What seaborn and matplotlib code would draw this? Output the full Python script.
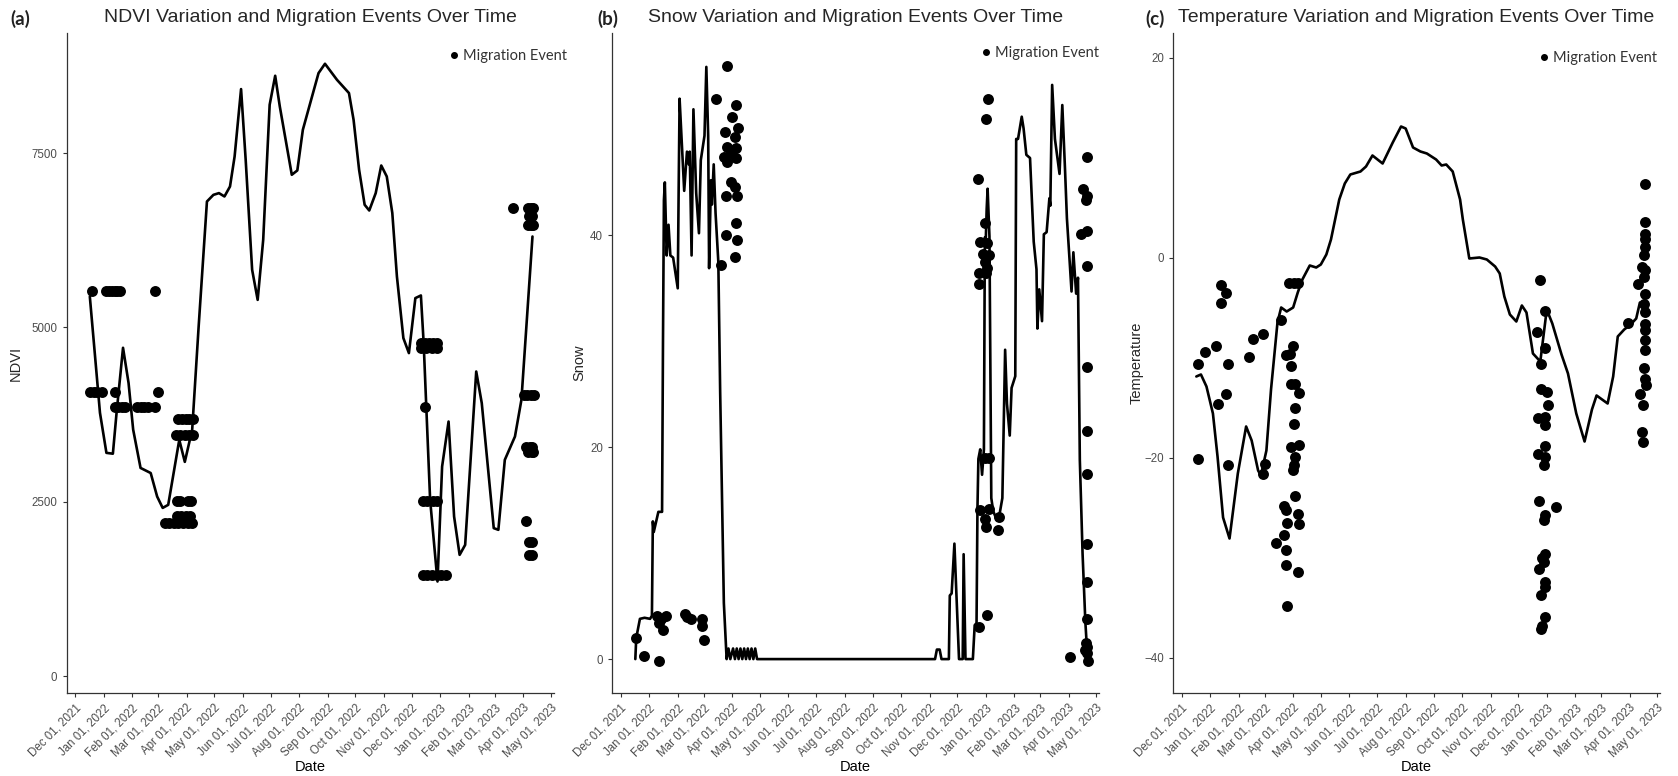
import numpy as np
import pandas as pd
import matplotlib
matplotlib.use("Agg")
import matplotlib.pyplot as plt
import matplotlib.dates as mdates
from matplotlib.lines import Line2D
import seaborn as sns

# ---- NDVI line ----
ndvi_dates = ["2021-12-17", "2021-12-23", "2021-12-28", "2022-01-04", "2022-01-11", "2022-01-15",
              "2022-01-22", "2022-01-28", "2022-02-02", "2022-02-10", "2022-02-21", "2022-02-28",
              "2022-03-06", "2022-03-12", "2022-03-24", "2022-03-30", "2022-04-07", "2022-04-14",
              "2022-04-23", "2022-04-30", "2022-05-06", "2022-05-12", "2022-05-18", "2022-05-23",
              "2022-05-30", "2022-06-04", "2022-06-11", "2022-06-17", "2022-06-23", "2022-06-30",
              "2022-07-06", "2022-07-11", "2022-07-24", "2022-07-30", "2022-08-05", "2022-08-11",
              "2022-08-22", "2022-08-29", "2022-09-11", "2022-09-24", "2022-09-29", "2022-10-05",
              "2022-10-11", "2022-10-16", "2022-10-23", "2022-10-29", "2022-11-04", "2022-11-10",
              "2022-11-15", "2022-11-22", "2022-11-28", "2022-12-05", "2022-12-11", "2022-12-14",
              "2022-12-21", "2022-12-29", "2023-01-03", "2023-01-10", "2023-01-16", "2023-01-22",
              "2023-01-28", "2023-02-09", "2023-02-15", "2023-02-28", "2023-03-05", "2023-03-12",
              "2023-03-23", "2023-03-30", "2023-04-11"]
ndvi_values = [5443, 4536, 3776, 3202, 3190, 3776,
               4708, 4204, 3535, 2986, 2913, 2576,
               2413, 2457, 3389, 3073, 3535, 5013,
               6805, 6900, 6925, 6877, 7020, 7450,
               8416, 7403, 5826, 5395, 6256, 8191,
               8607, 8167, 7188, 7250, 7833, 8120,
               8645, 8779, 8549, 8359, 7976, 7259,
               6758, 6676, 6925, 7321, 7163, 6640,
               5730, 4847, 4632, 5420, 5458, 4775,
               2529, 1358, 3006, 3651, 2289, 1740,
               1883, 4368, 3915, 2123, 2099, 3102,
               3436, 3962, 6303]

# ---- NDVI migration events ----
ndvi_event_dates = ["2021-12-19", "2022-01-04", "2022-01-07", "2022-01-10", "2022-01-13", "2022-01-16", "2022-01-19", "2022-02-26",
                    "2021-12-17", "2021-12-21", "2021-12-25", "2021-12-30", "2022-01-13", "2022-03-01",
                    "2022-01-13", "2022-01-17", "2022-01-21", "2022-01-24", "2022-02-06", "2022-02-10", "2022-02-14", "2022-02-18", "2022-02-26",
                    "2022-03-23", "2022-03-27", "2022-03-31", "2022-04-04", "2022-04-08",
                    "2022-03-20", "2022-03-25", "2022-03-30", "2022-04-04", "2022-04-08",
                    "2022-03-22", "2022-03-25", "2022-04-03", "2022-04-06",
                    "2022-03-21", "2022-03-26", "2022-03-31", "2022-04-05",
                    "2022-03-08", "2022-03-13", "2022-03-18", "2022-03-23", "2022-03-28", "2022-04-02", "2022-04-07",
                    "2022-12-11", "2022-12-15", "2022-12-20", "2022-12-24", "2022-12-29",
                    "2022-12-11", "2022-12-17", "2022-12-23", "2022-12-29",
                    "2022-12-15",
                    "2022-12-13", "2022-12-18", "2022-12-24", "2022-12-29",
                    "2022-12-13", "2022-12-18", "2022-12-23", "2022-12-28", "2023-01-02", "2023-01-07",
                    "2023-03-21", "2023-04-06", "2023-04-09", "2023-04-12",
                    "2023-04-07", "2023-04-11",
                    "2023-04-06", "2023-04-09", "2023-04-12",
                    "2023-04-02", "2023-04-05", "2023-04-09", "2023-04-13",
                    "2023-04-04", "2023-04-08", "2023-04-11",
                    "2023-04-06", "2023-04-10", "2023-04-12",
                    "2023-04-04",
                    "2023-04-07", "2023-04-10",
                    "2023-04-07", "2023-04-10"]
ndvi_event_values = [5520] * 8 + [4080] * 6 + [3860] * 9 + [3690] * 5 + [3460] * 5 + [2505] * 4 + [2290] * 4 + [2200] * 7 \
    + [4780] * 5 + [4700] * 4 + [3860] + [2505] * 4 + [1450] * 6 \
    + [6710] * 4 + [6600] * 2 + [6470] * 3 + [4030] * 4 + [3290] * 3 + [3220] * 3 + [2220] + [1930] * 2 + [1740] * 2

# ---- Snow line ----
snow_dates = ["2021-12-17", "2021-12-18", "2021-12-22", "2021-12-27", "2022-01-02", "2022-01-04", "2022-01-05",
              "2022-01-06", "2022-01-11", "2022-01-15", "2022-01-16", "2022-01-17", "2022-01-18", "2022-01-20",
              "2022-01-22", "2022-01-24", "2022-01-27", "2022-02-01", "2022-02-02", "2022-02-03", "2022-02-05",
              "2022-02-08", "2022-02-11", "2022-02-13", "2022-02-14", "2022-02-16", "2022-02-18", "2022-02-21",
              "2022-02-24", "2022-02-26", "2022-03-02", "2022-03-04", "2022-03-06", "2022-03-07", "2022-03-09",
              "2022-03-10", "2022-03-12", "2022-03-14", "2022-03-17", "2022-03-19", "2022-03-23", "2022-03-26",
              "2022-03-28", "2022-03-30", "2022-04-02", "2022-04-04", "2022-04-06", "2022-04-08", "2022-04-10",
              "2022-04-12", "2022-04-14", "2022-04-16", "2022-04-18", "2022-04-20", "2022-04-22", "2022-04-24",
              "2022-04-26", "2022-04-28",
              "2022-11-07", "2022-11-09", "2022-11-12", "2022-11-14", "2022-11-22", "2022-11-23", "2022-11-25",
              "2022-11-28", "2022-11-30", "2022-12-03", "2022-12-07", "2022-12-08", "2022-12-10", "2022-12-18",
              "2022-12-20", "2022-12-22", "2022-12-23", "2022-12-24", "2022-12-26", "2022-12-28", "2022-12-30",
              "2022-12-31", "2023-01-01", "2023-01-02", "2023-01-03", "2023-01-05", "2023-01-07", "2023-01-09",
              "2023-01-13", "2023-01-16", "2023-01-19", "2023-01-22", "2023-01-24", "2023-01-27", "2023-01-29",
              "2023-02-02", "2023-02-03", "2023-02-05", "2023-02-09", "2023-02-11", "2023-02-14", "2023-02-18",
              "2023-02-22", "2023-02-25", "2023-02-26", "2023-02-28", "2023-03-03", "2023-03-05", "2023-03-08",
              "2023-03-11", "2023-03-12", "2023-03-14", "2023-03-17", "2023-03-22", "2023-03-25", "2023-03-28",
              "2023-03-30", "2023-04-02", "2023-04-04", "2023-04-06", "2023-04-09", "2023-04-11", "2023-04-13",
              "2023-04-16", "2023-04-19", "2023-04-21"]
snow_values = [0, 2, 3.8, 3.9, 3.8, 4.1, 13,
               12, 13.9, 13.9, 30, 43.3, 45, 38.1,
               41, 38.1, 37.9, 35, 44.4, 52.9, 49.4,
               44.2, 47.9, 46.7, 47.9, 38.1, 51.9, 44,
               40.2, 47.1, 49.4, 55.9, 49.4, 36.9, 45.2,
               42.9, 46.7, 42.1, 37.5, 25.2, 5.3, 0,
               1, 0, 1, 0, 1, 0, 1,
               0, 1, 0, 1, 0, 1, 0,
               1, 0,
               0, 0.9, 0.9, 0, 0, 6, 6.2,
               10.9, 6.5, 0, 0, 9.9, 0, 0,
               3.2, 3.4, 14.2, 18.9, 19.8, 17.4, 19.8,
               39.8, 39.5, 42.5, 44.4, 39.9, 15.2, 14,
               13.1, 13.7, 15.2, 29.2, 24.1, 21.1, 25.6,
               26.7, 49.1, 49.1, 51.2, 50.1, 47.6, 47.3,
               39.4, 36.8, 31.2, 34.9, 31.9, 40.1, 40.3,
               43.5, 42.8, 54.2, 49.1, 45.8, 52.3, 46.1,
               41.6, 37.5, 34.7, 38.4, 34.5, 36, 18.8,
               9.9, 3.5, 0.6]

# ---- Snow migration events ----
snow_event_dates = ["2022-03-26", "2022-03-14", "2022-04-05", "2022-04-01", "2022-03-24", "2022-04-07", "2022-04-04",
                    "2022-03-26", "2022-04-05", "2022-03-23", "2022-03-31", "2022-03-26", "2022-04-05", "2022-03-31",
                    "2022-04-04", "2022-03-25", "2022-04-06", "2022-04-05", "2022-03-25", "2022-04-06", "2022-04-04",
                    "2022-03-20",
                    "2021-12-18", "2021-12-26", "2022-01-12", "2022-01-12", "2022-01-16", "2022-01-19", "2022-01-09",
                    "2022-01-14", "2022-02-09", "2022-02-11", "2022-02-15", "2022-02-27", "2022-02-27", "2022-03-02",
                    "2023-01-03", "2023-01-01", "2022-12-24", "2022-12-31", "2022-12-26", "2023-01-02", "2022-12-29",
                    "2022-12-31", "2023-01-05", "2022-12-25", "2023-01-02", "2022-12-25", "2023-01-01", "2022-12-31",
                    "2023-01-04", "2022-12-26", "2023-01-05", "2022-12-31", "2023-01-01", "2023-01-15", "2023-01-14",
                    "2023-01-02", "2022-12-25",
                    "2023-04-21", "2023-04-16", "2023-04-21", "2023-04-20", "2023-04-14", "2023-04-21", "2023-04-21",
                    "2023-04-21", "2023-04-21", "2023-04-21", "2023-04-21", "2023-04-21", "2023-04-21", "2023-04-20",
                    "2023-04-21", "2023-04-19", "2023-04-21", "2023-04-02", "2023-04-22"]
snow_event_values = [56, 52.9, 52.3, 51.2, 49.8, 50.1, 49.3,
                     48.3, 48.2, 47.4, 47.8, 46.9, 47.3, 45,
                     44.6, 43.7, 43.7, 41.2, 40, 39.6, 38,
                     37.2,
                     2, 0.3, -0.15, 3.4, 2.7, 4.1, 4.1,
                     3.8, 4.3, 4.0, 3.8, 3.8, 3.1, 1.8,
                     52.9, 51, 45.3, 41.2, 39.4, 39.3, 38.2,
                     37.5, 38.1, 36.4, 36.9, 35.4, 36.4, 19,
                     19, 14.1, 14.2, 13.2, 12.5, 13.4, 12.2,
                     4.2, 3,
                     47.4, 44.4, 43.7, 43.3, 40.1, 40.4, 37.1,
                     27.6, 21.5, 17.5, 10.9, 7.3, 3.8, 1.5,
                     1.1, 0.9, 0.6, 0.2, -0.2]

# ---- Temperature line ----
temp_dates = ["2021-12-17", "2021-12-22", "2021-12-28", "2022-01-04", "2022-01-09", "2022-01-15", "2022-01-22",
              "2022-01-31", "2022-02-09", "2022-02-15", "2022-02-22", "2022-02-25", "2022-03-03", "2022-03-08",
              "2022-03-15", "2022-03-19", "2022-03-25", "2022-04-01", "2022-04-06", "2022-04-11", "2022-04-19",
              "2022-04-26", "2022-05-01", "2022-05-07", "2022-05-12", "2022-05-21", "2022-05-27", "2022-06-02",
              "2022-06-13", "2022-06-19", "2022-06-26", "2022-07-07", "2022-07-18", "2022-07-27", "2022-08-01",
              "2022-08-09", "2022-08-17", "2022-08-24", "2022-09-03", "2022-09-09", "2022-09-14", "2022-09-21",
              "2022-09-29", "2022-10-02", "2022-10-09", "2022-10-20", "2022-10-28", "2022-11-06", "2022-11-11",
              "2022-11-16", "2022-11-22", "2022-11-29", "2022-12-05", "2022-12-10", "2022-12-17", "2022-12-25",
              "2023-01-01", "2023-01-07", "2023-01-17", "2023-01-24", "2023-02-02", "2023-02-11", "2023-02-19",
              "2023-02-24", "2023-03-08", "2023-03-14", "2023-03-19", "2023-03-26", "2023-04-02", "2023-04-08",
              "2023-04-12"]
temp_values = [-11.9, -11.7, -12.9, -15.6, -19.9, -26, -28.1,
               -21.6, -16.9, -18.3, -21.3, -21.8, -19.3, -13.2,
               -6.5, -5, -5.4, -5, -3.5, -2.2, -0.8,
               -1, -0.7, 0.3, 1.8, 5.8, 7.4, 8.3,
               8.6, 9.1, 10.2, 9.4, 11.5, 13.1, 12.9,
               11, 10.6, 10.4, 9.8, 9.2, 9.3, 8.6,
               5.8, 3.8, -0.1, 0, -0.2, -0.9, -1.6,
               -3.9, -5.7, -6.4, -4.8, -5.5, -9.6, -10.4,
               -5.2, -6.6, -9.7, -11.6, -15.6, -18.4, -15.2,
               -13.8, -14.6, -11.9, -7.9, -7.2, -6.7, -6.1,
               -4.5]

# ---- Temperature migration events ----
temp_event_dates = ["2021-12-19", "2021-12-26", "2022-01-07", "2022-01-13", "2022-01-18", "2022-01-13", "2022-01-20",
                    "2022-01-18", "2022-01-10", "2021-12-19", "2022-01-20", "2022-02-12", "2022-02-16", "2022-02-27",
                    "2022-02-27", "2022-03-01", "2022-03-19", "2022-03-28", "2022-04-02", "2022-04-06", "2022-04-01",
                    "2022-03-24", "2022-03-29", "2022-03-30", "2022-03-30", "2022-04-03", "2022-04-07", "2022-04-03",
                    "2022-04-02", "2022-03-30", "2022-04-07", "2022-04-03", "2022-04-02", "2022-04-01", "2022-04-03",
                    "2022-03-22", "2022-03-24", "2022-04-06", "2022-03-25", "2022-04-07", "2022-03-22", "2022-03-13",
                    "2022-03-24", "2022-03-24", "2022-04-06", "2022-03-25",
                    "2022-12-25", "2022-12-30", "2022-12-21", "2022-12-30", "2022-12-26", "2022-12-26", "2023-01-01",
                    "2023-01-02", "2022-12-23", "2022-12-30", "2022-12-30", "2022-12-30", "2022-12-23", "2022-12-30",
                    "2022-12-29", "2022-12-24", "2023-01-11", "2022-12-30", "2022-12-29", "2022-12-30", "2022-12-27",
                    "2022-12-29", "2022-12-24", "2022-12-30", "2022-12-30", "2022-12-26", "2022-12-30", "2022-12-26",
                    "2022-12-27",
                    "2023-03-30", "2023-04-17", "2023-04-17", "2023-04-17", "2023-04-18", "2023-04-17", "2023-04-16",
                    "2023-04-14", "2023-04-18", "2023-04-10", "2023-04-16", "2023-04-17", "2023-04-16", "2023-04-18",
                    "2023-04-17", "2023-04-17", "2023-04-18", "2023-04-17", "2023-04-16", "2023-04-17", "2023-04-19",
                    "2023-04-12", "2023-04-15", "2023-04-14", "2023-04-15"]
temp_event_values = [-10.6, -9.4, -8.8, -2.7, -3.5, -4.5, -10.6,
                     -13.6, -14.6, -20.1, -20.7, -9.9, -8.1, -7.6,
                     -21.6, -20.6, -6.2, -2.5, -2.5, -2.5, -8.8,
                     -9.7, -9.6, -10.8, -12.6, -12.6, -13.5, -15,
                     -16.6, -18.9, -18.7, -19.9, -20.7, -21.2, -23.8,
                     -24.8, -25.2, -25.6, -26.5, -26.6, -27.7, -28.5,
                     -29.2, -30.7, -31.4, -34.8,
                     -2.2, -5.3, -7.4, -9, -10.6, -13.1, -13.4,
                     -14.7, -16, -15.9, -16.7, -18.8, -19.6, -19.9,
                     -20.7, -24.3, -24.9, -25.7, -26.2, -29.6, -30,
                     -30.4, -31.1, -32.4, -32.9, -33.7, -35.9, -37.1,
                     -36.8,
                     -6.5, 7.4, 3.6, 2.4, 1.9, 1.1, 0.3,
                     -0.9, -1.2, -2.6, -1.9, -3.6, -4.6, -5.4,
                     -6.6, -7.2, -8.2, -9.2, -11, -12.1, -12.7,
                     -13.6, -14.7, -17.4, -18.4]

sns.set_theme(style="ticks")
plt.rcParams['font.family'] = ['Liberation Sans', 'DejaVu Sans']

W, H = 1678, 776
fig = plt.figure(figsize=(W / 100, H / 100), dpi=100)

x_start = pd.Timestamp("2021-11-21 17:00")
x_end = pd.Timestamp("2023-05-03 19:00")

panels = [
    dict(left=66.5, right=553.5, letter="(a)", letter_x=10,
         title="NDVI Variation and Migration Events Over Time", ylabel="NDVI", ylab_x=16,
         line=(ndvi_dates, ndvi_values), events=(ndvi_event_dates, ndvi_event_values),
         ylim=(-240, 9220), yticks=[0, 2500, 5000, 7500], leg=(456, 56)),
    dict(left=612, right=1099, letter="(b)", letter_x=597,
         title="Snow Variation and Migration Events Over Time", ylabel="Snow", ylab_x=579,
         line=(snow_dates, snow_values), events=(snow_event_dates, snow_event_values),
         ylim=(-3.2, 59.1), yticks=[0, 20, 40], leg=(988, 53)),
    dict(left=1173, right=1660, letter="(c)", letter_x=1145,
         title="Temperature Variation and Migration Events Over Time", ylabel="Temperature", ylab_x=1137,
         line=(temp_dates, temp_values), events=(temp_event_dates, temp_event_values),
         ylim=(-43.55, 22.45), yticks=[-40, -20, 0, 20], leg=(1546, 58)),
]

top, bottom = 33, 693
for p in panels:
    ax = fig.add_axes([p["left"] / W, 1 - bottom / H, (p["right"] - p["left"]) / W, (bottom - top) / H])
    line_df = pd.DataFrame({"date": pd.to_datetime(p["line"][0]), "value": p["line"][1]})
    ev_df = pd.DataFrame({"date": pd.to_datetime(p["events"][0]), "value": p["events"][1]})

    sns.lineplot(data=line_df, x="date", y="value", color="black", linewidth=1.9, ax=ax)
    sns.scatterplot(data=ev_df, x="date", y="value", color="black", s=62, linewidth=0, ax=ax, zorder=3)

    ax.set_xlim(x_start, x_end)
    ax.set_ylim(*p["ylim"])
    ax.set_yticks(p["yticks"])
    ax.xaxis.set_major_locator(mdates.MonthLocator())
    ax.xaxis.set_major_formatter(mdates.DateFormatter("%b %d, %Y"))
    plt.setp(ax.get_xticklabels(), rotation=45, ha="right", rotation_mode="anchor")
    ax.tick_params(labelsize=8.3, labelcolor="#4d4d4d", color="#333333", length=3, width=0.8)
    for s in ["top", "right"]:
        ax.spines[s].set_visible(False)
    for s in ["left", "bottom"]:
        ax.spines[s].set_color("#333333")
        ax.spines[s].set_linewidth(0.9)
    ax.set_xlabel("")
    ax.set_ylabel("")

    cx = (p["left"] + p["right"]) / 2
    fig.text(cx / W, 1 - 767 / H, "Date", ha="center", va="center", fontsize=10.5, color="black")
    fig.text(p["ylab_x"] / W, 1 - 363 / H, p["ylabel"], ha="center", va="center", rotation=90, fontsize=10.5)
    fig.text(cx / W, 1 - 18 / H, p["title"], ha="center", va="center", fontsize=14)
    fig.text(p["letter_x"] / W, 1 - 19 / H, p["letter"], ha="left", va="center", fontsize=13.5,
             fontweight="bold", family=["Lato", "DejaVu Sans"], color="#222222")

    handle = Line2D([], [], marker="o", linestyle="", color="black", markersize=4)
    ax.legend([handle], ["Migration Event"], loc="center left",
              bbox_to_anchor=((p["leg"][0] - 6) / W, 1 - p["leg"][1] / H), bbox_transform=fig.transFigure,
              frameon=False, handlelength=0.6, handletextpad=0.3, borderpad=0, borderaxespad=0,
              prop={"family": ["Lato", "DejaVu Sans"], "size": 10.5}, labelcolor="#333333")

fig.savefig("out.png", dpi=100)
